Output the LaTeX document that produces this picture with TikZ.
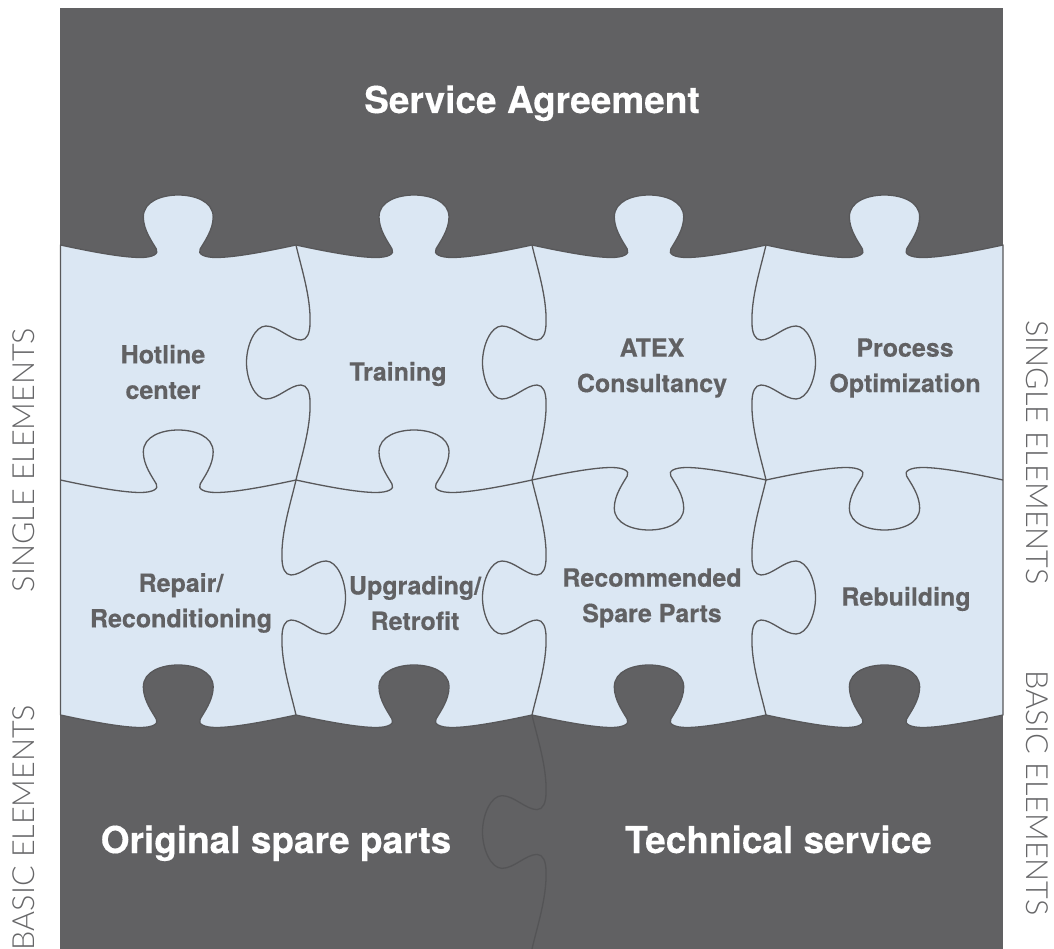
\documentclass[tikz,border=0pt]{standalone}
\usepackage{fontspec}
\setmainfont{TeX Gyre Heros}[BoldFeatures={FakeBold=0.35}]
\newfontfamily\sidefont{Lato Light}
\definecolor{panel}{RGB}{97,97,99}
\definecolor{piece}{RGB}{219,231,243}
\definecolor{seam}{RGB}{88,88,90}
\definecolor{seamdark}{RGB}{84,84,86}
\definecolor{sidetext}{RGB}{102,102,104}
\newcommand{\hcurve}{.. controls (30,-6.5) and (62,-12.5) .. (80,-12.5)
 .. controls (92,-12.5) and (99,-9) .. (96,-4)
 .. controls (92,3) and (83,15) .. (83,28)
 .. controls (83,44) and (102,50) .. (118,50)
 .. controls (134,50) and (153,44) .. (153,28)
 .. controls (153,15) and (144,3) .. (140,-4)
 .. controls (137,-9) and (144,-12.5) .. (156,-12.5)
 .. controls (174,-12.5) and (206,-6.5) .. (236,0)}
\newcommand{\vcurve}{.. controls (22,-5) and (52,-15) .. (78,-14)
 .. controls (88,-14) and (95,-11) .. (95,-5)
 .. controls (95,6) and (81,18) .. (81,30)
 .. controls (81,41) and (100,49.5) .. (117.5,49.5)
 .. controls (135,49.5) and (154,41) .. (154,30)
 .. controls (154,18) and (140,6) .. (140,-5)
 .. controls (140,-11) and (147,-14) .. (157,-14)
 .. controls (183,-15) and (213,-5) .. (235,0)}
% x0, y, x1, sign: -1 = tab up, 1 = tab down
\newcommand{\hseg}[4]{{[shift={(#1,#2)},xscale={(#3-#1)/236},yscale=#4] \hcurve}}
% x, y0, y1, sign: 1 = tab right, -1 = tab left
\newcommand{\vseg}[4]{{[shift={(#1,#2)},cm={0,{-(#3-#2)/235},{-(#4)},0,(0,0)}] \vcurve}}
\tikzset{
  seamline/.style={draw=seam,line width=1.3pt,line join=round},
  headlabel/.style={text=white,font=\fontsize{37}{40}\selectfont\bfseries,inner sep=0pt,anchor=base},
  piecelabel/.style={text=panel,font=\fontsize{25}{35.5}\selectfont\bfseries,align=center,inner sep=0pt},
  sidelabel/.style={text=sidetext,font=\sidefont\fontsize{30.5}{33}\selectfont,inner sep=0pt}
}
\begin{document}
\begin{tikzpicture}[x=1pt,y=-1pt]
\useasboundingbox (0,0) rectangle (1054,949);
\fill[panel] (60,8) rectangle (1003,949);
% light field
\path[fill=piece,seamline] (60.5,245) \hseg{60.5}{245}{296}{-1} \hseg{296}{245}{532}{-1} \hseg{532}{245}{766}{-1} \hseg{766}{245}{1003}{-1}
  -- (1003,715) \hseg{1003}{715}{766}{-1} \hseg{766}{715}{532}{-1} \hseg{532}{715}{296}{-1} \hseg{296}{715}{60.5}{-1} -- cycle;
% horizontal seams
\draw[seamline] (60.5,480) \hseg{60.5}{480}{296}{-1};
\draw[seamline] (296,480) \hseg{296}{480}{532}{-1};
\draw[seamline] (532,480) \hseg{532}{480}{766}{1};
\draw[seamline] (766,480) \hseg{766}{480}{1003}{1};
% vertical seams
\draw[seamline] (296,245) \vseg{296}{245}{480}{-1};
\draw[seamline] (532,245) \vseg{532}{245}{480}{-1};
\draw[seamline] (766,245) \vseg{766}{245}{480}{1};
\draw[seamline] (296,480) \vseg{296}{480}{715}{1};
\draw[seamline] (532,480) \vseg{532}{480}{715}{-1};
\draw[seamline] (766,480) \vseg{766}{480}{715}{1};
\draw[draw=seamdark,line width=1.3pt] (532,715) \vseg{532}{715}{949}{-1};
% labels
\node[headlabel] (agreement) at (532,113) {Service Agreement};
\node[headlabel] (original) at (276,853) {Original spare parts};
\node[headlabel] (technical) at (778.5,853) {Technical service};
\node[piecelabel] (hotline) at (163,372) {Hotline\\center};
\node[piecelabel] (training) at (398,374) {Training};
\node[piecelabel] (atex) at (652,368) {ATEX\\Consultancy};
\node[piecelabel] (process) at (905,368) {Process\\Optimization};
\node[piecelabel] (repair) at (181,603) {Repair/\\Reconditioning};
\node[piecelabel] (upgrading) at (415,603) {Upgrading/\\Retrofit};
\node[piecelabel] (spare) at (652,598) {Recommended\\Spare Parts};
\node[piecelabel] (rebuilding) at (906,599) {Rebuilding};
\node[sidelabel,rotate=90] (singleL) at (24,460) {SINGLE ELEMENTS};
\node[sidelabel,rotate=90] (basicL) at (24,827.5) {BASIC ELEMENTS};
\node[sidelabel,rotate=-90] (singleR) at (1037,452.5) {SINGLE ELEMENTS};
\node[sidelabel,rotate=-90] (basicR) at (1037,793) {BASIC ELEMENTS};
\end{tikzpicture}
\end{document}
